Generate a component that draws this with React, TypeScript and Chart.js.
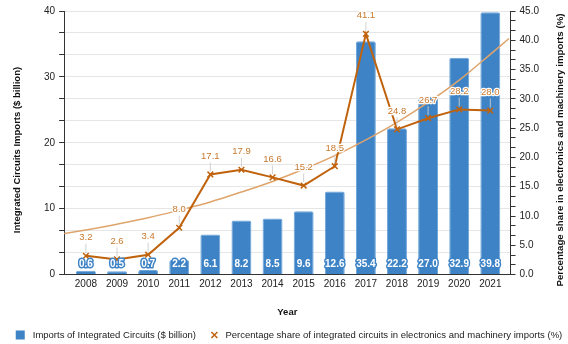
import React, { useEffect, useRef } from "react";
import { Chart, registerables } from "chart.js";

Chart.register(...registerables);

const years = [2008, 2009, 2010, 2011, 2012, 2013, 2014, 2015, 2016, 2017, 2018, 2019, 2020, 2021];
const importsBillion = [0.6, 0.5, 0.7, 2.2, 6.1, 8.2, 8.5, 9.6, 12.6, 35.4, 22.2, 27.0, 32.9, 39.8];
const sharePct = [3.2, 2.6, 3.4, 8.0, 17.1, 17.9, 16.6, 15.2, 18.5, 41.1, 24.8, 26.7, 28.2, 28.0];
// trend line (x in years, y in %)
const trendX = [2007.3, 2008, 2009, 2010, 2011, 2012, 2013, 2014, 2015, 2016, 2017, 2018, 2019, 2020, 2021, 2021.6];
const trendY = [7.0, 7.6, 8.6, 9.7, 11.0, 12.4, 14.1, 15.9, 18.0, 20.3, 23.0, 26.0, 29.4, 33.2, 37.6, 40.3];

const leftTicks = Array.from({ length: 13 }, (_, k) => (k * 10) / 3);
const rightTicks = Array.from({ length: 28 }, (_, k) => (k * 5) / 3);

const LEFT_TITLE = "Integrated Circuits Imports ($ billion)";
const RIGHT_TITLE = "Percentage share in electronics and machinery imports (%)";
const BAR_LABEL = "Imports of Integrated Circuits ($ billion)";
const LINE_LABEL = "Percentage share of integrated circuits in electronics and machinery imports (%)";

const BLUE = "#3d83c6";
const ORANGE = "#c0620c";
const LABEL_ORANGE = "#c8782c";
const TREND = "#dfa46c";
const FONT = "'Liberation Sans', Arial, sans-serif";

const labelPlugin = {
  id: "valueLabels",
  afterDatasetsDraw(chart: any) {
    const ctx = chart.ctx;
    const area = chart.chartArea;
    ctx.save();
    const barMeta = chart.getDatasetMeta(0);
    ctx.font = `bold 10px ${FONT}`;
    ctx.textAlign = "center";
    ctx.textBaseline = "middle";
    ctx.lineJoin = "round";
    barMeta.data.forEach((el: any, i: number) => {
      const t = importsBillion[i].toFixed(1);
      const y = area.bottom - 10;
      ctx.lineWidth = 3;
      ctx.strokeStyle = BLUE;
      ctx.strokeText(t, el.x, y);
      ctx.fillStyle = "#ffffff";
      ctx.fillText(t, el.x, y);
    });
    const lineMeta = chart.getDatasetMeta(2);
    ctx.font = `9.5px ${FONT}`;
    lineMeta.data.forEach((el: any, i: number) => {
      const t = sharePct[i].toFixed(1);
      const y = el.y - 18;
      ctx.strokeStyle = "rgba(205,205,205,0.9)";
      ctx.lineWidth = 1;
      ctx.beginPath();
      ctx.moveTo(el.x, y + 6);
      ctx.lineTo(el.x, el.y - 3);
      ctx.stroke();
      ctx.lineWidth = 2.5;
      ctx.strokeStyle = "#ffffff";
      ctx.strokeText(t, el.x, y);
      ctx.fillStyle = LABEL_ORANGE;
      ctx.fillText(t, el.x, y);
    });
    ctx.restore();
  },
  afterDraw(chart: any) {
    const ctx = chart.ctx;
    const titleY = 150;
    ctx.save();
    ctx.font = `bold 9.5px ${FONT}`;
    ctx.fillStyle = "#111";
    ctx.textAlign = "center";
    ctx.textBaseline = "middle";
    ctx.translate(17, titleY);
    ctx.rotate(-Math.PI / 2);
    ctx.fillText(LEFT_TITLE, 0, 0);
    ctx.restore();

    ctx.save();
    ctx.font = `bold 9.7px ${FONT}`;
    ctx.fillStyle = "#111";
    ctx.textAlign = "center";
    ctx.textBaseline = "middle";
    ctx.translate(chart.width - 8, titleY);
    ctx.rotate(-Math.PI / 2);
    ctx.fillText(RIGHT_TITLE, 0, 0);
    ctx.restore();

    // legend
    ctx.save();
    ctx.font = `9.5px ${FONT}`;
    ctx.textBaseline = "middle";
    ctx.textAlign = "left";
    const w1 = ctx.measureText(BAR_LABEL).width;
    const w2 = ctx.measureText(LINE_LABEL).width;
    const box = 9;
    const gap1 = 8;
    const gap2 = 6.5;
    const spacing = 14;
    const total = box + gap1 + w1 + spacing + box + gap2 + w2;
    let x = 289 - total / 2;
    const y = 335;
    ctx.fillStyle = BLUE;
    ctx.fillRect(x, y - box / 2, box, box);
    ctx.fillStyle = "#222";
    ctx.fillText(BAR_LABEL, x + box + gap1, y);
    x += box + gap1 + w1 + spacing;
    const cx = x + box / 2;
    const r = 3;
    ctx.strokeStyle = ORANGE;
    ctx.lineWidth = 1.5;
    ctx.beginPath();
    ctx.moveTo(cx - r, y - r);
    ctx.lineTo(cx + r, y + r);
    ctx.moveTo(cx + r, y - r);
    ctx.lineTo(cx - r, y + r);
    ctx.stroke();
    ctx.fillStyle = "#222";
    ctx.fillText(LINE_LABEL, x + box + gap2, y);
    ctx.restore();
  },
};

export default function App() {
  const ref = useRef<HTMLCanvasElement | null>(null);
  useEffect(() => {
    document.body.style.margin = "0";
    if (!ref.current) return;
    const chart = new Chart(ref.current, {
      type: "bar",
      data: {
        datasets: [
          {
            type: "bar",
            label: BAR_LABEL,
            data: years.map((y, i) => ({ x: y, y: importsBillion[i] })),
            backgroundColor: BLUE,
            borderColor: "#6aa3d8",
            borderWidth: 1,
            borderRadius: 2,
            borderSkipped: "bottom",
            barPercentage: 0.64,
            categoryPercentage: 1,
            yAxisID: "y",
            order: 3,
          } as any,
          {
            type: "line",
            label: "trend",
            data: trendX.map((x, i) => ({ x, y: trendY[i] })),
            borderColor: TREND,
            borderWidth: 1.5,
            pointRadius: 0,
            tension: 0.4,
            fill: false,
            yAxisID: "y1",
            order: 2,
          } as any,
          {
            type: "line",
            label: LINE_LABEL,
            data: years.map((y, i) => ({ x: y, y: sharePct[i] })),
            borderColor: ORANGE,
            backgroundColor: ORANGE,
            borderWidth: 2,
            pointStyle: "crossRot",
            pointRadius: 4,
            pointBorderWidth: 1.5,
            pointBorderColor: ORANGE,
            tension: 0,
            fill: false,
            yAxisID: "y1",
            order: 1,
          } as any,
        ],
      },
      options: {
        animation: false,
        responsive: false,
        maintainAspectRatio: false,
        layout: { padding: { top: 11, left: 40, right: 25, bottom: 26 } },
        scales: {
          x: {
            type: "linear",
            offset: false,
            min: 2007.3,
            max: 2021.65,
            afterBuildTicks: (axis: any) => {
              axis.ticks = years.map((v) => ({ value: v }));
            },
            ticks: {
              callback: (v: any) => String(v),
              color: "#222",
              font: { size: 10, family: FONT },
              padding: 4,
              autoSkip: false,
              maxRotation: 0,
            },
            grid: { drawOnChartArea: false, drawTicks: false, offset: false },
            border: { color: "#333", width: 1 },
            title: {
              display: true,
              text: "Year",
              color: "#111",
              font: { size: 9.5, weight: "bold", family: FONT },
              padding: { top: 12, bottom: 0 },
            },
          },
          y: {
            type: "linear",
            position: "left",
            min: 0,
            max: 40,
            afterBuildTicks: (axis: any) => {
              axis.ticks = leftTicks.map((v) => ({ value: v }));
            },
            ticks: {
              callback: (v: any) => {
                const r = Math.round(v / 10);
                return Math.abs(v / 10 - r) < 1e-6 ? String(r * 10) : "";
              },
              color: "#222",
              font: { size: 10, family: FONT },
              padding: 4,
              autoSkip: false,
            },
            grid: { color: "#e6e6e6", tickColor: "#333", tickLength: 5 },
            border: { color: "#333", width: 1 },
          },
          y1: {
            type: "linear",
            position: "right",
            min: 0,
            max: 45,
            afterBuildTicks: (axis: any) => {
              axis.ticks = rightTicks.map((v) => ({ value: v }));
            },
            ticks: {
              callback: (v: any) => {
                const r = Math.round(v / 5);
                return Math.abs(v / 5 - r) < 1e-6 ? (r * 5).toFixed(1) : "";
              },
              color: "#222",
              font: { size: 10, family: FONT },
              padding: 4,
              autoSkip: false,
            },
            grid: { drawOnChartArea: false, tickColor: "#333", tickLength: 5 },
            border: { color: "#333", width: 1 },
          },
        },
        plugins: {
          legend: { display: false },
          tooltip: { enabled: false },
        },
      },
      plugins: [labelPlugin],
    } as any);
    return () => chart.destroy();
  }, []);
  return (
    <div style={{ width: 568, height: 344 }}>
      <canvas ref={ref} width={568} height={344} style={{ display: "block" }} />
    </div>
  );
}
